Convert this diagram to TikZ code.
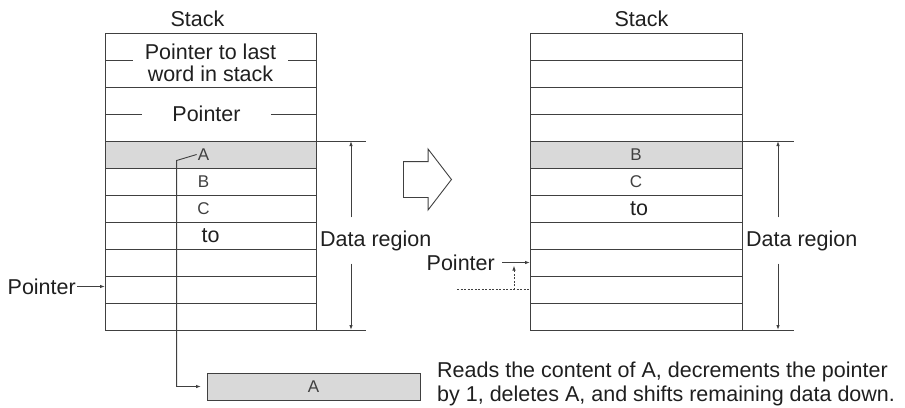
\documentclass[tikz,border=0pt]{standalone}
\usepackage{fontspec}
\setmainfont{Liberation Sans}
\usetikzlibrary{arrows.meta, positioning, shapes.arrows}

\begin{document}
\begin{tikzpicture}[
    x=1pt, y=-1pt,
    >={Latex[length=5pt, width=3.5pt]},
    every node/.style={font=\fontsize{21.5}{24}\selectfont, text=black!88},
    cell/.style={draw=black!75, line width=0.9pt, minimum width=211pt,
                 minimum height=27pt, inner sep=0pt, outer sep=0pt},
    tall/.style={cell, minimum height=54pt},
    hot/.style={cell, fill=black!15},
    letter/.style={font=\fontsize{17}{18}\selectfont, text=black!75, inner sep=1pt},
    wire/.style={draw=black!75, line width=0.9pt},
    dots/.style={wire, dash pattern=on 2pt off 1.5pt},
]
  \useasboundingbox (0,0) rectangle (905,407);

  % stack before the read
  \node[tall] (lastcell) at (210.5,60) {};
  \node[tall, below=0pt of lastcell] (ptrcell) {};
  \node[hot, below=0pt of ptrcell] (la) {};
  \node[cell, below=0pt of la] (lb) {};
  \node[cell, below=0pt of lb] (lc) {};
  \node[cell, below=0pt of lc] (lto) {};
  \node[cell, below=0pt of lto] (l7) {};
  \node[cell, below=0pt of l7] (l8) {};
  \node[cell, below=0pt of l8] (l9) {};
  \node[anchor=base] (lstack) at (197.5,26) {Stack};

  \node[align=center, inner xsep=12pt, inner ysep=0pt,
        font=\fontsize{21.5}{22}\selectfont]
        (lastlbl) at ([yshift=-3pt]lastcell.center) {Pointer to last\\word in stack};
  \draw[wire] (lastcell.west) -- (lastcell.west -| lastlbl.west);
  \draw[wire] (lastcell.east -| lastlbl.east) -- (lastcell.east);
  \node[inner xsep=30pt, inner ysep=0pt] (ptrlbl) at ([xshift=-4pt]ptrcell.center) {Pointer};
  \draw[wire] (ptrcell.west) -- (ptrcell.west -| ptrlbl.west);
  \draw[wire] (ptrcell.east -| ptrlbl.east) -- (ptrcell.east);

  \node[letter] (ta) at ([xshift=-7pt]la.center) {A};
  \node[letter] (tb) at ([xshift=-7pt]lb.center) {B};
  \node[letter] (tc) at ([xshift=-7pt]lc.center) {C};
  \node[inner sep=0pt] (tto) at (lto.center) {to};

  \node[left=29pt of l8, inner sep=0pt, yshift=3pt] (lptr) {Pointer};
  \draw[wire, ->, shorten <=1pt] (lptr) -- (lptr -| l8.west);

  % data region, left
  \draw[wire] (la.north east) -- ++(50,0);
  \draw[wire] (l9.south east) -- ++(50,0);
  \coordinate (ltop) at ([xshift=35pt]la.north east);
  \coordinate (lbot) at ([xshift=35pt]l9.south east);
  \node[right=4pt of lto, yshift=-5pt, inner xsep=0pt, minimum height=46pt] (ldata) {Data region};
  \draw[wire, ->] (ltop |- ldata.north) -- (ltop);
  \draw[wire, ->] (lbot |- ldata.south) -- (lbot);

  % the word that was read out
  \node[hot, letter, minimum width=213pt] (popped) at (313.5,386.5) {A};
  \draw[wire, ->, shorten >=6pt] (ta.west) -- ++(-20,6) |- (popped.west);

  \node[single arrow, draw=black!75, line width=0.9pt, inner xsep=0pt, inner ysep=17.5pt,
        minimum height=48pt, single arrow head extend=12.5pt,
        single arrow tip angle=105, anchor=tail] (go) at (403,179.5) {};

  % stack after the read
  \node[cell, minimum width=212pt] (r1) at (636,46.5) {};
  \node[cell, minimum width=212pt, below=0pt of r1] (r2) {};
  \node[cell, minimum width=212pt, below=0pt of r2] (r3) {};
  \node[cell, minimum width=212pt, below=0pt of r3] (r4) {};
  \node[hot, letter, minimum width=212pt, below=0pt of r4] (rb) {B};
  \node[cell, letter, minimum width=212pt, below=0pt of rb] (rc) {C};
  \node[cell, minimum width=212pt, below=0pt of rc] (rto) {\hspace{6pt}to};
  \node[cell, minimum width=212pt, below=0pt of rto] (r8) {};
  \node[cell, minimum width=212pt, below=0pt of r8] (r9) {};
  \node[cell, minimum width=212pt, below=0pt of r9] (r10) {};
  \node[cell, minimum width=212pt, below=0pt of r10] (r11) {};
  \node[anchor=base] (rstack) at (641.5,26) {Stack};

  \node[left=35pt of r9, inner sep=0pt] (rptr) {Pointer};
  \draw[wire, ->, shorten <=7pt] (rptr) -- (r9);
  \coordinate (oldptr) at ([xshift=-73pt]r10.west);
  \draw[dots] (oldptr) -- (r10.west);
  \draw[dots, ->] ([xshift=-16pt]r10.west) -- ([xshift=-16pt, yshift=-3pt]r9.west);

  % data region, right
  \draw[wire] (rb.north east) -- ++(52,0);
  \draw[wire] (r11.south east) -- ++(52,0);
  \coordinate (rtop) at ([xshift=36pt]rb.north east);
  \coordinate (rbot) at ([xshift=36pt]r11.south east);
  \node[right=4pt of r8, yshift=-5pt, inner xsep=0pt, minimum height=46pt] (rdata) {Data region};
  \draw[wire, ->] (rtop |- rdata.north) -- (rtop);
  \draw[wire, ->] (rbot |- rdata.south) -- (rbot);

  \node[anchor=north west, align=left, inner sep=0pt] (note) at (437,362)
        {Reads the content of A, decrements the pointer\\by 1, deletes A, and shifts remaining data down.};
\end{tikzpicture}
\end{document}
